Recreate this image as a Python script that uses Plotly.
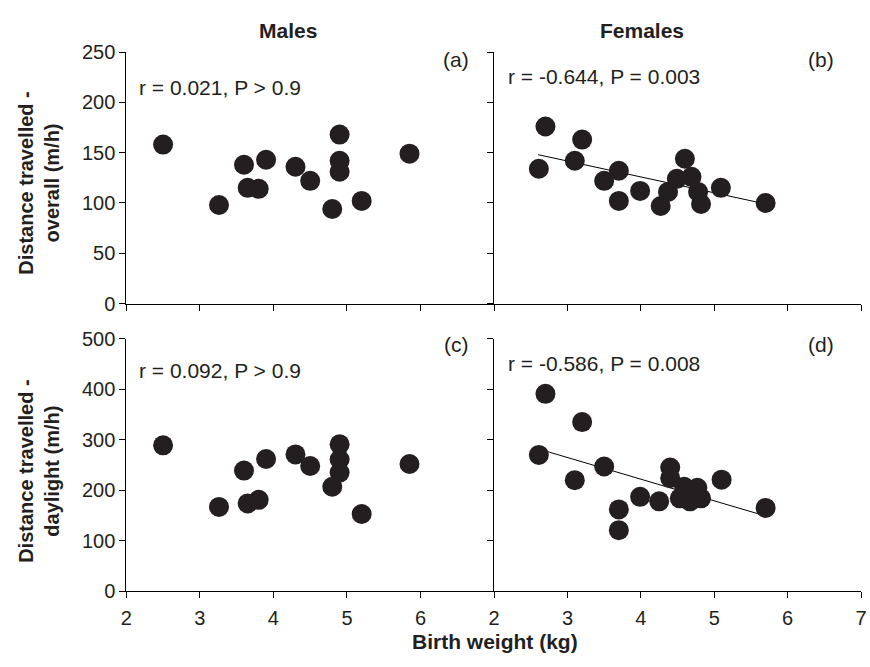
import plotly.graph_objects as go

# ---------------- data ----------------
male_bw = [2.50, 3.26, 3.60, 3.90, 3.65, 3.80, 4.30, 4.50, 4.90, 4.90, 4.90, 4.80, 5.20, 5.85]
male_overall = [158, 98, 138, 143, 115, 114, 136, 122, 168, 142, 131, 94, 102, 149]
male_daylight = [289, 167, 239, 262, 174, 181, 271, 248, 291, 261, 235, 207, 153, 252]

female_bw_overall = [2.61, 2.70, 3.20, 3.10, 3.50, 3.70, 3.70, 3.99, 4.27, 4.37, 4.49, 4.60, 4.69, 4.78, 4.82, 5.09, 5.70]
female_overall = [134, 176, 163, 142, 122, 132, 102, 112, 97, 111, 124, 144, 126, 111, 99, 115, 100]

female_bw_daylight = [2.61, 2.70, 3.20, 3.10, 3.50, 3.70, 3.70, 3.99, 4.25, 4.40, 4.40, 4.59, 4.77, 4.53, 4.67, 4.82, 5.10, 5.70]
female_daylight = [270, 391, 335, 220, 247, 162, 121, 187, 178, 245, 224, 207, 205, 184, 178, 184, 221, 165]

trend_x = [2.6, 5.7]
trend_overall = [148, 99]
trend_daylight = [282, 149]

stats_text = ["r = 0.021, P > 0.9", "r = -0.644, P = 0.003", "r = 0.092, P > 0.9", "r = -0.586, P = 0.008"]
panel_labels = ["(a)", "(b)", "(c)", "(d)"]
col_titles = ["Males", "Females"]
y_titles = ["Distance travelled -<br>overall (m/h)", "Distance travelled -<br>daylight (m/h)"]
x_title = "Birth weight (kg)"

# ---------------- layout helpers ----------------
W, H = 870, 667
def px(x):
    return x / W
def py(y):
    return 1 - y / H

FONT = "Liberation Sans, Arial, sans-serif"
DOT = "#231f20"
TXT = "#231f20"

fig = go.Figure()

def dots(x, y, xa, ya):
    fig.add_trace(go.Scatter(x=x, y=y, mode="markers", xaxis=xa, yaxis=ya,
                             marker=dict(size=20, color=DOT, line=dict(width=0)),
                             showlegend=False, hoverinfo="x+y"))

def trend(x, y, xa, ya):
    fig.add_trace(go.Scatter(x=x, y=y, mode="lines", xaxis=xa, yaxis=ya,
                             line=dict(color="black", width=1),
                             showlegend=False, hoverinfo="skip"))

trend(trend_x, trend_overall, "x2", "y2")
trend(trend_x, trend_daylight, "x4", "y4")
dots(male_bw, male_overall, "x", "y")
dots(female_bw_overall, female_overall, "x2", "y2")
dots(male_bw, male_daylight, "x3", "y3")
dots(female_bw_daylight, female_daylight, "x4", "y4")

xl = [px(122.0), px(494.9)]
xr = [px(494.9), px(867.0)]
yt = [py(302.5), py(42.5)]
yb = [py(600), py(339)]

axis_common = dict(showline=True, linecolor="black", linewidth=1, ticks="outside",
                   ticklen=6, tickcolor="black", tickwidth=1, showgrid=False,
                   zeroline=False, tickfont=dict(family=FONT, size=20, color=TXT))

fig.update_layout(
    width=W, height=H, margin=dict(l=0, r=0, t=0, b=0),
    paper_bgcolor="white", plot_bgcolor="white",
    xaxis=dict(domain=xl, range=[2, 7], anchor="y", dtick=1, showticklabels=False, **axis_common),
    xaxis2=dict(domain=xr, range=[2, 7], anchor="y2", dtick=1, showticklabels=False, **axis_common),
    xaxis3=dict(domain=xl, range=[2, 7], anchor="y3", tickvals=[2, 3, 4, 5, 6, 7],
                ticktext=["2", "3", "4", "5", "6", ""], ticklabelstandoff=3, **axis_common),
    xaxis4=dict(domain=xr, range=[2, 7], anchor="y4", tickvals=[2, 3, 4, 5, 6, 7],
                ticktext=["2", "3", "4", "5", "6", "7"], ticklabelstandoff=3,
                ticklabeloverflow="allow", **axis_common),
    yaxis=dict(domain=yt, range=[0, 250], anchor="x", dtick=50, **axis_common),
    yaxis2=dict(domain=yt, range=[0, 250], anchor="x2", dtick=50, showticklabels=False, **axis_common),
    yaxis3=dict(domain=yb, range=[0, 500], anchor="x3", dtick=100, **axis_common),
    yaxis4=dict(domain=yb, range=[0, 500], anchor="x4", dtick=100, showticklabels=False, **axis_common),
)

ann = []
tf = dict(family=FONT, size=21, color=TXT)
stat_pos = [(133, 79), (507, 68), (133, 372), (507, 365)]
for t, (x, y) in zip(stats_text, stat_pos):
    ann.append(dict(text=t, x=px(x), y=py(y), xref="paper", yref="paper",
                    xanchor="left", yanchor="middle", showarrow=False, font=tf))
lab_pos = [(472, 50), (842, 50), (472, 345), (842, 345)]
for t, (x, y) in zip(panel_labels, lab_pos):
    ann.append(dict(text=t, x=px(x), y=py(y), xref="paper", yref="paper",
                    xanchor="right", yanchor="middle", showarrow=False, font=tf))
for t, x in zip(col_titles, [286, 645]):
    ann.append(dict(text="<b>%s</b>" % t, x=px(x), y=py(20), xref="paper", yref="paper",
                    xanchor="center", yanchor="middle", showarrow=False, font=tf))
yf = dict(family=FONT, size=20, color=TXT)
for t, y in zip(y_titles, [178, 476]):
    ann.append(dict(text="<b>%s</b>" % t, x=px(34), y=py(y), xref="paper", yref="paper",
                    xanchor="center", yanchor="middle", showarrow=False, textangle=-90,
                    font=yf))
ann.append(dict(text="<b>%s</b>" % x_title, x=px(495.5), y=py(652), xref="paper", yref="paper",
                xanchor="center", yanchor="middle", showarrow=False, font=tf))
fig.update_layout(annotations=ann)

fig.write_html("out.html")
